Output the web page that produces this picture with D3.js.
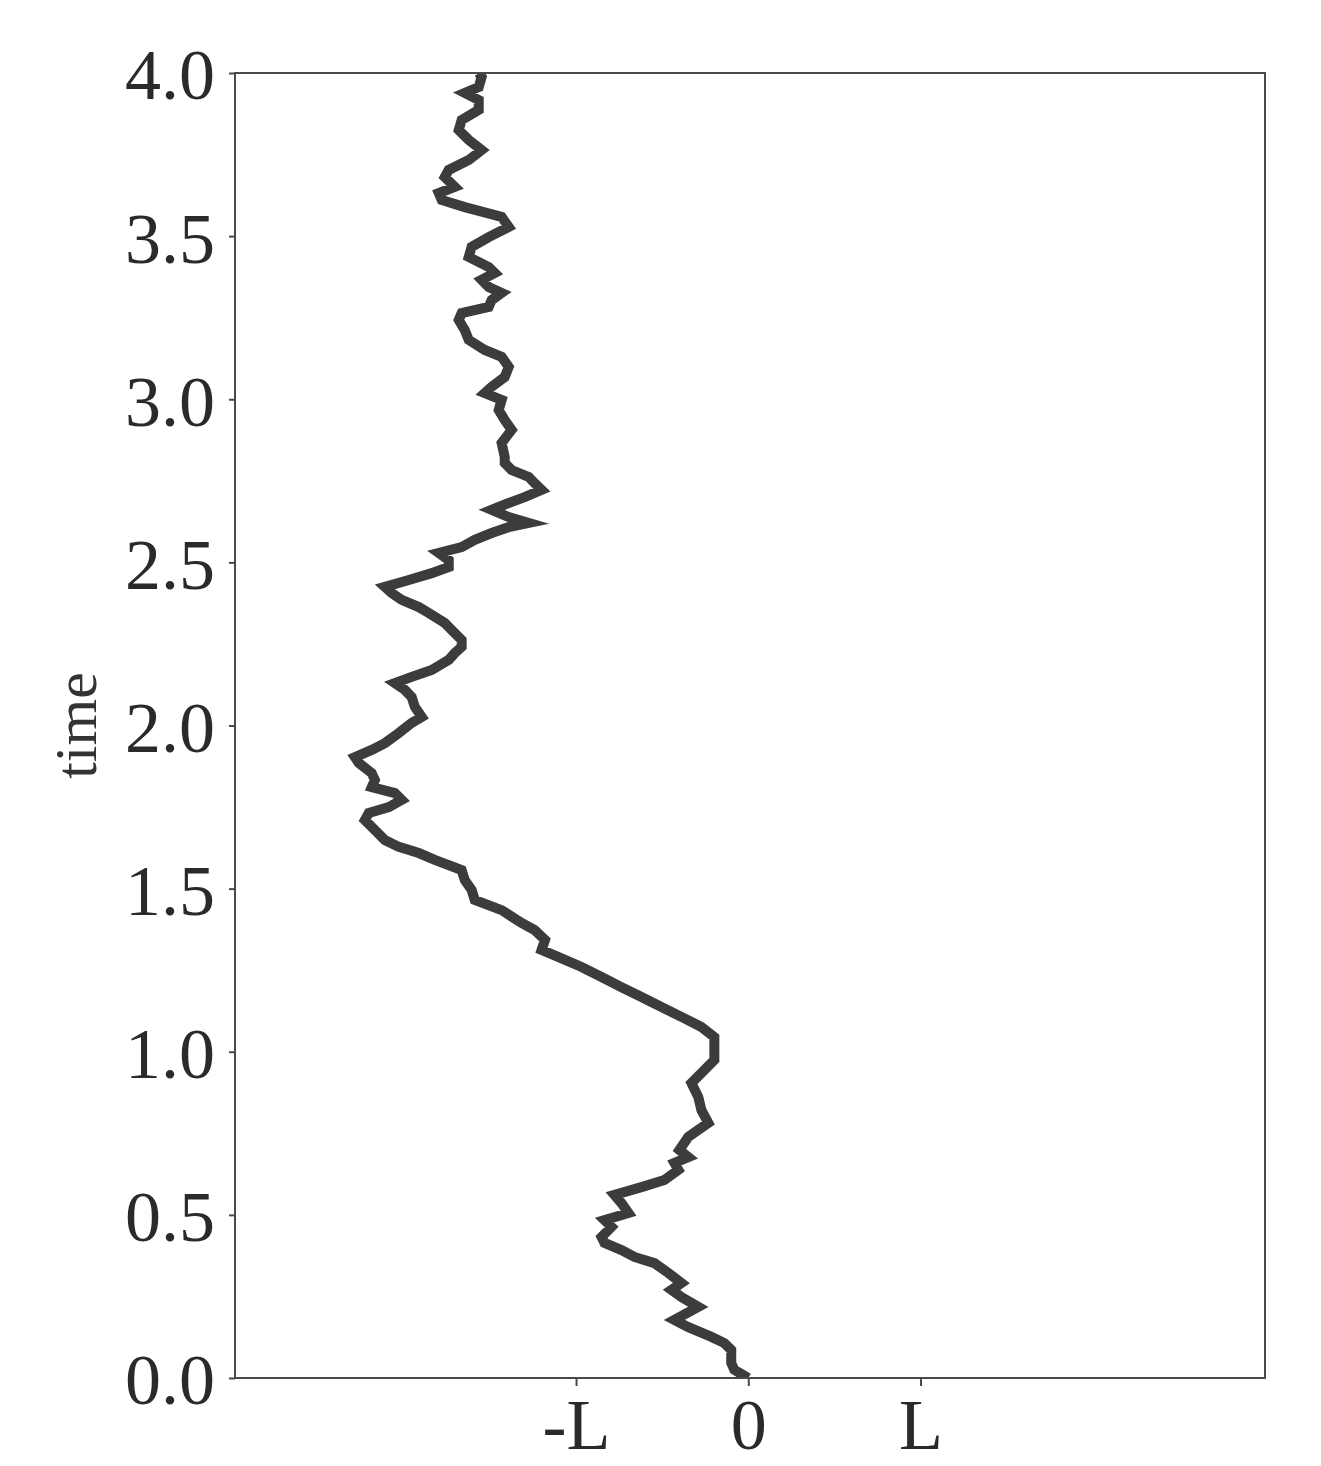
<!DOCTYPE html>
<html>
<head>
<meta charset="utf-8">
<script src="https://cdn.jsdelivr.net/npm/d3@7"></script>
<style>
  html, body { margin: 0; padding: 0; background: #fff; }
  svg { display: block; }
</style>
</head>
<body>
<svg id="chart" width="1321" height="1466"></svg>
<script>
// ---- data (position in units of L, time) ----
const times = [
  0, 0.025, 0.046, 0.086, 0.107, 0.126, 0.156, 0.178, 0.218, 0.248,
  0.270, 0.291, 0.322, 0.352, 0.371, 0.392, 0.414, 0.432, 0.463, 0.484,
  0.506, 0.536, 0.561, 0.585, 0.607, 0.638, 0.659, 0.677, 0.699, 0.739,
  0.782, 0.821, 0.861, 0.904, 0.935, 0.975, 1.015, 1.045, 1.076, 1.107,
  1.137, 1.168, 1.198, 1.229, 1.260, 1.290, 1.312, 1.343, 1.373, 1.395,
  1.434, 1.465, 1.496, 1.526, 1.557, 1.588, 1.609, 1.628, 1.649, 1.680,
  1.710, 1.732, 1.750, 1.772, 1.793, 1.811, 1.833, 1.854, 1.885, 1.903,
  1.925, 1.946, 1.977, 2.008, 2.026, 2.057, 2.087, 2.109, 2.130, 2.149,
  2.170, 2.201, 2.222, 2.241, 2.262, 2.293, 2.314, 2.345, 2.363, 2.385,
  2.406, 2.425, 2.446, 2.467, 2.486, 2.507, 2.529, 2.547, 2.569, 2.590,
  2.608, 2.621, 2.639, 2.661, 2.682, 2.700, 2.722, 2.743, 2.762, 2.783,
  2.805, 2.823, 2.866, 2.906, 2.936, 2.967, 2.998, 3.019, 3.038, 3.068,
  3.099, 3.130, 3.151, 3.182, 3.212, 3.243, 3.264, 3.283, 3.304, 3.326,
  3.344, 3.366, 3.387, 3.405, 3.436, 3.467, 3.497, 3.528, 3.559, 3.589,
  3.611, 3.632, 3.651, 3.681, 3.703, 3.733, 3.764, 3.795, 3.825, 3.856,
  3.887, 3.917, 3.939, 3.957, 3.988, 4.000
];
const positions = [
  0, -0.081, -0.099, -0.099, -0.139, -0.214, -0.348, -0.429, -0.290, -0.388,
  -0.446, -0.388, -0.464, -0.545, -0.661, -0.736, -0.835, -0.852, -0.794, -0.835,
  -0.696, -0.736, -0.777, -0.620, -0.487, -0.406, -0.429, -0.348, -0.400, -0.348,
  -0.232, -0.272, -0.290, -0.330, -0.272, -0.197, -0.197, -0.197, -0.272, -0.388,
  -0.504, -0.620, -0.736, -0.852, -0.968, -1.101, -1.200, -1.180, -1.240, -1.316,
  -1.432, -1.588, -1.606, -1.646, -1.664, -1.820, -1.913, -2.029, -2.110, -2.168,
  -2.226, -2.203, -2.087, -2.012, -2.052, -2.186, -2.168, -2.186, -2.261, -2.284,
  -2.186, -2.110, -2.029, -1.954, -1.896, -1.936, -1.954, -1.994, -2.052, -1.954,
  -1.838, -1.739, -1.704, -1.664, -1.664, -1.722, -1.762, -1.855, -1.913, -2.012,
  -2.070, -2.110, -1.971, -1.838, -1.739, -1.739, -1.797, -1.664, -1.588, -1.490,
  -1.391, -1.275, -1.391, -1.490, -1.391, -1.299, -1.200, -1.241, -1.275, -1.374,
  -1.414, -1.414, -1.432, -1.374, -1.414, -1.449, -1.432, -1.530, -1.490, -1.414,
  -1.391, -1.432, -1.530, -1.623, -1.646, -1.681, -1.664, -1.507, -1.490, -1.432,
  -1.507, -1.548, -1.472, -1.507, -1.623, -1.606, -1.507, -1.391, -1.432, -1.646,
  -1.780, -1.797, -1.704, -1.762, -1.739, -1.623, -1.548, -1.623, -1.681, -1.664,
  -1.565, -1.565, -1.646, -1.565, -1.548, -1.565
];
const yTicks = [0, 0.5, 1.0, 1.5, 2.0, 2.5, 3.0, 3.5, 4.0];
const xTicks = [-1, 0, 1];
const xTickLabels = ["-L", "0", "L"];
const yLabel = "time";

// ---- layout ----
const svg = d3.select("#chart");
const margin = { left: 235, top: 73, right: 56, bottom: 88 };
const W = 1321, H = 1466;
const iw = W - margin.left - margin.right;
const ih = H - margin.top - margin.bottom;

const x = d3.scaleLinear().domain([-2.98, 3.0]).range([0, iw]);
const y = d3.scaleLinear().domain([0, 4]).range([ih, 0]);

const g = svg.append("g").attr("transform", `translate(${margin.left},${margin.top})`);

const font = "'Liberation Serif', 'DejaVu Serif', serif";
const ink = "#2a2a2a";

// path
const data = times.map((t, i) => ({ t, p: positions[i] }));
const line = d3.line().x(d => x(d.p)).y(d => y(d.t));

svg.append("defs").append("clipPath").attr("id", "clip")
  .append("rect").attr("width", iw).attr("height", ih);

g.append("path")
  .datum(data)
  .attr("clip-path", "url(#clip)")
  .attr("d", line)
  .attr("fill", "none")
  .attr("stroke", "#3c3c3c")
  .attr("stroke-width", 10)
  .attr("stroke-linejoin", "miter")
  .attr("stroke-miterlimit", 5);

// frame
g.append("rect")
  .attr("width", iw).attr("height", ih)
  .attr("fill", "none").attr("stroke", "#4a4a4a").attr("stroke-width", 2);

// y axis
const yAxis = d3.axisLeft(y).tickValues(yTicks).tickFormat(d3.format(".1f")).tickSize(6).tickPadding(14);
const ya = g.append("g").call(yAxis);
ya.select(".domain").remove();
ya.selectAll(".tick line").attr("stroke", "#4a4a4a").attr("stroke-width", 2);
ya.selectAll(".tick text")
  .attr("font-family", font).attr("font-size", 72).attr("fill", ink)
  .attr("dy", "0.36em");

// x axis
const xAxis = d3.axisBottom(x).tickValues(xTicks).tickFormat((d, i) => xTickLabels[i]).tickSize(8).tickPadding(12);
const xa = g.append("g").attr("transform", `translate(0,${ih})`).call(xAxis);
xa.select(".domain").remove();
xa.selectAll(".tick line").attr("stroke", "#4a4a4a").attr("stroke-width", 2);
xa.selectAll(".tick text")
  .attr("font-family", font).attr("font-size", 72).attr("fill", ink)
  .attr("dy", "0.71em");

// y label
svg.append("text")
  .attr("transform", `translate(96,${margin.top + ih / 2}) rotate(-90)`)
  .attr("text-anchor", "middle")
  .attr("font-family", font).attr("font-size", 60).attr("fill", "#333")
  .text(yLabel);
</script>
</body>
</html>
